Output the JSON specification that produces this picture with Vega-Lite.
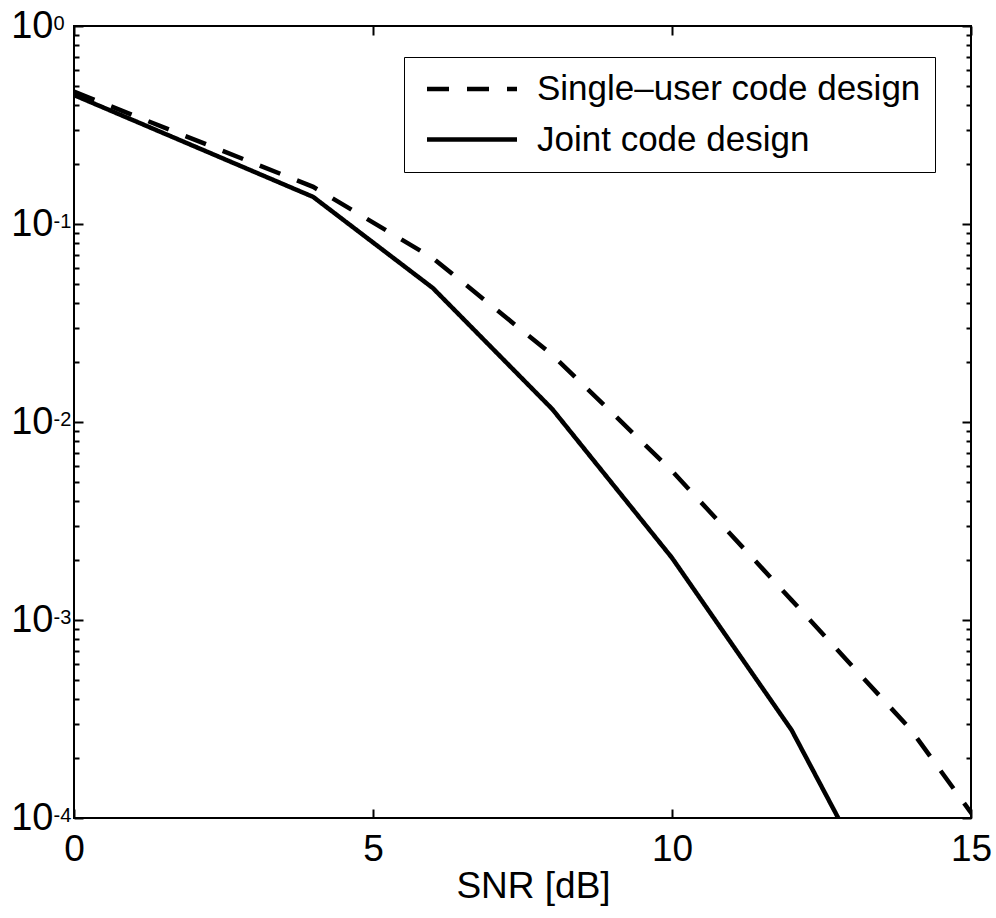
{
  "$schema": "https://vega.github.io/schema/vega-lite/v6.json",
  "autosize": "none",
  "width": 897,
  "height": 792,
  "padding": {"left": 74, "top": 26, "right": 25, "bottom": 100},
  "background": "white",
  "config": {
    "view": {"stroke": "black", "strokeWidth": 2},
    "font": "Liberation Sans"
  },
  "data": {
    "values": [
      {"series": "Single–user code design", "snr": 0, "ber": 0.466},
      {"series": "Single–user code design", "snr": 4, "ber": 0.154},
      {"series": "Single–user code design", "snr": 6, "ber": 0.0673},
      {"series": "Single–user code design", "snr": 8, "ber": 0.0218},
      {"series": "Single–user code design", "snr": 10, "ber": 0.00566},
      {"series": "Single–user code design", "snr": 12, "ber": 0.00126},
      {"series": "Single–user code design", "snr": 14, "ber": 0.000278},
      {"series": "Single–user code design", "snr": 16, "ber": 0.0000407},
      {"series": "Joint code design", "snr": 0, "ber": 0.448},
      {"series": "Joint code design", "snr": 4, "ber": 0.137},
      {"series": "Joint code design", "snr": 6, "ber": 0.0475},
      {"series": "Joint code design", "snr": 8, "ber": 0.0116},
      {"series": "Joint code design", "snr": 10, "ber": 0.00206},
      {"series": "Joint code design", "snr": 12, "ber": 0.000278},
      {"series": "Joint code design", "snr": 14, "ber": 0.0000202}
    ]
  },
  "layer": [
    {
      "mark": {"type": "line", "color": "black", "strokeWidth": 4.5, "clip": true, "strokeCap": "butt"},
      "encoding": {
        "x": {
          "field": "snr", "type": "quantitative",
          "scale": {"domain": [0, 15], "nice": false, "zero": false},
          "axis": {
            "orient": "bottom", "values": [0, 5, 10, 15], "tickSize": -9, "tickColor": "black", "tickWidth": 2,
            "domain": false, "grid": false, "labelFontSize": 37, "labelPadding": 22, "labelColor": "black",
            "labelFlush": false, "labelFont": "Liberation Sans",
            "title": "SNR [dB]", "titleFontSize": 37, "titleFontWeight": "normal", "titleColor": "black",
            "titlePadding": 1, "titleFont": "Liberation Sans", "titleX": 459
          }
        },
        "y": {
          "field": "ber", "type": "quantitative",
          "scale": {"type": "log", "domain": [0.0001, 1], "nice": false},
          "axis": {
            "orient": "left",
            "values": [1, 0.9, 0.8, 0.7, 0.6, 0.5, 0.4, 0.3, 0.2, 0.1, 0.09, 0.08, 0.07, 0.06, 0.05, 0.04, 0.03, 0.02, 0.01, 0.009, 0.008, 0.007, 0.006, 0.005, 0.004, 0.003, 0.002, 0.001, 0.0009, 0.0008, 0.0007, 0.0006, 0.0005, 0.0004, 0.0003, 0.0002, 0.0001],
            "tickSize": {"condition": {"test": "indexof([1,0.1,0.01,0.001,0.0001], datum.value) >= 0", "value": -9}, "value": -5},
            "tickColor": "black", "tickWidth": 2, "domain": false, "grid": false,
            "labelExpr": "indexof([1,0.1,0.01,0.001,0.0001], datum.value) >= 0 ? '10' : ''",
            "labelFontSize": 38, "labelPadding": 30, "labelColor": "black", "labelFont": "Liberation Sans",
            "labelAlign": "right", "labelBaseline": "middle",
            "labelOverlap": false, "labelBound": false, "labelFlush": false, "title": null
          }
        },
        "strokeDash": {
          "field": "series", "type": "nominal",
          "scale": {"domain": ["Single–user code design", "Joint code design"], "range": [[22, 18], [1, 0]]},
          "legend": {
            "title": null, "orient": "none", "legendX": 330, "legendY": 31,
            "strokeColor": "black", "padding": 14.5, "rowPadding": 14.5,
            "symbolType": "M-3,0H3", "symbolSize": 900, "symbolStrokeWidth": 4.5, "symbolStrokeColor": "black",
            "symbolFillColor": "transparent",
            "symbolOffset": 36, "labelOffset": 47.5, "labelFontSize": 35, "labelColor": "black", "labelFont": "Liberation Sans",
            "labelLimit": 0, "fillColor": "white"
          }
        }
      }
    },
    {
      "mark": {"type": "line", "color": "black", "strokeOpacity": 0, "clip": true},
      "encoding": {
        "x": {
          "field": "snr", "type": "quantitative",
          "scale": {"domain": [0, 15], "nice": false, "zero": false},
          "axis": {"orient": "top", "values": [0, 5, 10, 15], "tickSize": -9, "tickColor": "black", "tickWidth": 2, "domain": false, "grid": false, "labels": false, "title": null}
        },
        "y": {
          "field": "ber", "type": "quantitative",
          "scale": {"type": "log", "domain": [0.0001, 1], "nice": false},
          "axis": {
            "orient": "right",
            "values": [1, 0.9, 0.8, 0.7, 0.6, 0.5, 0.4, 0.3, 0.2, 0.1, 0.09, 0.08, 0.07, 0.06, 0.05, 0.04, 0.03, 0.02, 0.01, 0.009, 0.008, 0.007, 0.006, 0.005, 0.004, 0.003, 0.002, 0.001, 0.0009, 0.0008, 0.0007, 0.0006, 0.0005, 0.0004, 0.0003, 0.0002, 0.0001],
            "tickSize": {"condition": {"test": "indexof([1,0.1,0.01,0.001,0.0001], datum.value) >= 0", "value": -9}, "value": -5},
            "tickColor": "black", "tickWidth": 2, "domain": false, "grid": false, "labels": false, "title": null
          }
        },
        "detail": {"field": "series", "type": "nominal"}
      }
    },
    {
      "mark": {"type": "line", "color": "black", "strokeOpacity": 0, "clip": true},
      "encoding": {
        "x": {
          "field": "snr", "type": "quantitative",
          "scale": {"domain": [0, 15], "nice": false, "zero": false},
          "axis": null
        },
        "y": {
          "field": "ber", "type": "quantitative",
          "scale": {"type": "log", "domain": [0.0001, 1], "nice": false},
          "axis": {
            "orient": "left",
            "values": [1, 0.1, 0.01, 0.001, 0.0001],
            "ticks": true, "tickSize": 0, "tickOpacity": 0, "domain": false, "grid": false,
            "labelExpr": "datum.value == 1 ? '0' : datum.value == 0.1 ? '-1' : datum.value == 0.01 ? '-2' : datum.value == 0.001 ? '-3' : '-4'",
            "labelFontSize": 20, "labelPadding": 21, "labelColor": "black", "labelFont": "Liberation Sans",
            "labelAlign": "left", "labelBaseline": "middle", "labelOffset": -3,
            "labelOverlap": false, "labelBound": false, "labelFlush": false, "title": null
          }
        },
        "detail": {"field": "series", "type": "nominal"}
      }
    }
  ],
  "resolve": {"axis": {"x": "independent", "y": "independent"}}
}
